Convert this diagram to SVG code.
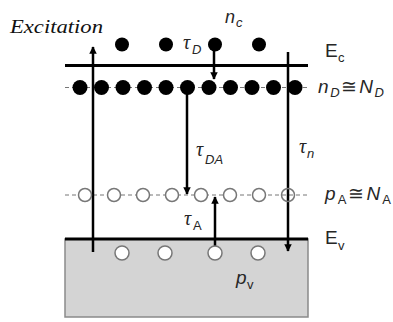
<svg xmlns="http://www.w3.org/2000/svg" width="393" height="322" viewBox="0 0 393 322">
<style>
.lbl{font-family:"Liberation Sans",Arial,sans-serif;fill:#262626;font-size:18px}
.big{font-size:19px}
.it{font-style:italic}
.sub{font-size:13px;font-style:italic}
.tau{font-family:"Liberation Serif","DejaVu Serif",serif;font-style:italic;font-size:20px;fill:#262626}
.dash{stroke:#777;stroke-width:1;stroke-dasharray:4 3;fill:none}
.band{stroke:#000;stroke-width:3;fill:none}
.v{stroke:#000;stroke-width:2.5;fill:none}
.don{fill:#000}
.acc{fill:#fff;stroke:#777;stroke-width:1.5}
</style>
<defs>
<marker id="ah" viewBox="0 0 10 10" refX="9" refY="5" markerWidth="3" markerHeight="3.4" orient="auto" markerUnits="strokeWidth">
<path d="M0,0 L10,5 L0,10 z" fill="#000"/>
</marker>
</defs>
<g id="valence-band">
<rect x="65" y="239" width="243" height="78" fill="#d4d4d4" stroke="#8a8a8a" stroke-width="1.5"/>
<line class="band" x1="65" y1="239" x2="308" y2="239"/>
</g>
<g id="conduction-band">
<line class="band" x1="65" y1="65.5" x2="308" y2="65.5"/>
</g>
<g id="donor-level">
<line class="dash" x1="65" y1="87.5" x2="308" y2="87.5"/>
</g>
<g id="acceptor-level">
<line class="dash" x1="65" y1="195" x2="308" y2="195"/>
</g>
<g id="connectors">
<line class="v" x1="93" y1="252" x2="93" y2="47" marker-end="url(#ah)"/>
<line class="v" x1="288" y1="52" x2="288" y2="251" marker-end="url(#ah)"/>
<line class="v" x1="214" y1="45" x2="214" y2="79" marker-end="url(#ah)"/>
<line class="v" x1="187" y1="88" x2="187" y2="194" marker-end="url(#ah)"/>
<line class="v" x1="215" y1="253" x2="215" y2="197" marker-end="url(#ah)"/>
</g>
<g id="conduction-electrons">
<circle class="don" cx="122" cy="44.5" r="7"/>
<circle class="don" cx="166" cy="44.5" r="7"/>
<circle class="don" cx="215" cy="44.5" r="7"/>
<circle class="don" cx="259" cy="44.5" r="7"/>
</g>
<g id="donor-electrons">
<circle class="don" cx="80" cy="87.5" r="7.5"/>
<circle class="don" cx="101.5" cy="87.5" r="7.5"/>
<circle class="don" cx="123" cy="87.5" r="7.5"/>
<circle class="don" cx="144.5" cy="87.5" r="7.5"/>
<circle class="don" cx="166" cy="87.5" r="7.5"/>
<circle class="don" cx="187.5" cy="87.5" r="7.5"/>
<circle class="don" cx="209" cy="87.5" r="7.5"/>
<circle class="don" cx="230.5" cy="87.5" r="7.5"/>
<circle class="don" cx="252" cy="87.5" r="7.5"/>
<circle class="don" cx="273.5" cy="87.5" r="7.5"/>
<circle class="don" cx="295" cy="87.5" r="7.5"/>
</g>
<g id="acceptor-holes">
<circle class="acc" cx="85" cy="195" r="6.5"/>
<circle class="acc" cx="114" cy="195" r="6.5"/>
<circle class="acc" cx="143" cy="195" r="6.5"/>
<circle class="acc" cx="172" cy="195" r="6.5"/>
<circle class="acc" cx="201" cy="195" r="6.5"/>
<circle class="acc" cx="230" cy="195" r="6.5"/>
<circle class="acc" cx="259" cy="195" r="6.5"/>
<circle class="acc" cx="288" cy="195" r="6.5" style="fill:none"/>
</g>
<g id="valence-holes">
<circle class="acc" cx="122" cy="253" r="7"/>
<circle class="acc" cx="165" cy="253" r="7"/>
<circle class="acc" cx="215" cy="253" r="7"/>
<circle class="acc" cx="258" cy="253" r="7"/>
</g>
<g id="labels">
<text x="10" y="33" font-family="Liberation Serif,serif" font-style="italic" font-size="19" fill="#111" textLength="93" lengthAdjust="spacingAndGlyphs">Excitation</text>
<text class="lbl it" x="225" y="23">n</text><text class="lbl sub" x="236" y="27">c</text>
<text class="tau" x="183" y="49">τ</text><text class="lbl sub" x="192" y="54">D</text>
<text class="lbl big" x="325" y="57">E</text><text class="lbl sub" x="338" y="62" style="font-style:normal">c</text>
<text class="lbl big" x="318" y="93" textLength="66"><tspan class="it">n</tspan><tspan class="sub" dy="4">D</tspan><tspan dy="-4">≅</tspan><tspan class="it">N</tspan><tspan class="sub" dy="4">D</tspan></text>
<text class="tau" x="196" y="156">τ</text><text class="lbl sub" x="205" y="164">DA</text>
<text class="tau" x="299" y="153">τ</text><text class="lbl sub" x="307" y="158">n</text>
<text class="lbl big" x="325" y="200" textLength="66"><tspan class="it">p</tspan><tspan class="sub" dy="4" style="font-style:normal">A</tspan><tspan dy="-4">≅</tspan><tspan class="it">N</tspan><tspan class="sub" dy="4" style="font-style:normal">A</tspan></text>
<text class="tau" x="184" y="225">τ</text><text class="lbl sub" x="193" y="230" style="font-style:normal">A</text>
<text class="lbl big" x="325" y="244">E</text><text class="lbl sub" x="338" y="250" style="font-style:normal">v</text>
<text class="lbl big it" x="236" y="284">p</text><text class="lbl sub" x="247" y="289" style="font-style:normal">v</text>
</g>
</svg>
